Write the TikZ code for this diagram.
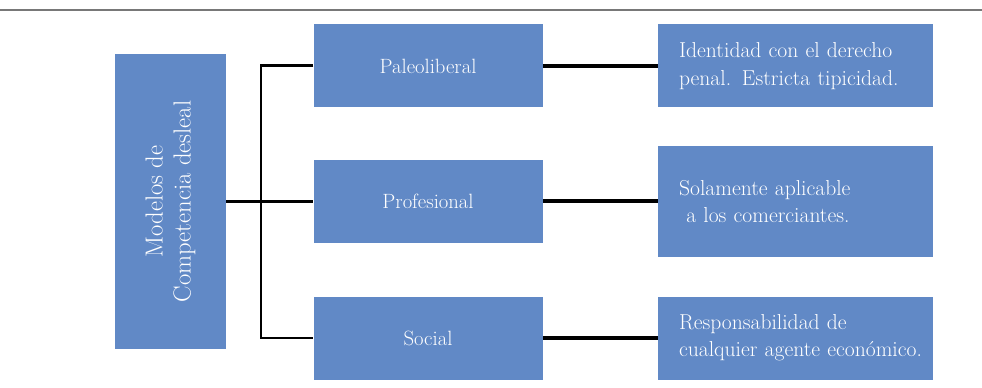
\documentclass[tikz,border=0pt]{standalone}
\usepackage{xcolor}
\usepackage{tikz}
\usetikzlibrary{positioning}
\definecolor{boxblue}{RGB}{97,137,198}
\definecolor{rulegray}{RGB}{120,120,120}

\begin{document}
\begin{tikzpicture}[x=0.75pt, y=-0.75pt]
  \tikzstyle{box} = [rectangle, fill=boxblue, text=white, inner sep=0pt, font=\fontsize{15.5}{20.5}\selectfont]
  \tikzstyle{model} = [box, rotate=90, align=center, minimum width=221.25pt, minimum height=83.25pt, font=\fontsize{18.5}{21}\selectfont]
  \tikzstyle{kind} = [box, align=center, minimum width=171.75pt, minimum height=62.25pt]
  \tikzstyle{desc} = [box, align=left, text width=174.75pt, inner xsep=15.75pt, minimum height=62.25pt, font=\fontsize{16.2}{20.5}\selectfont]
  \tikzstyle{link} = [line width=2.2pt, black]

  \useasboundingbox (0,0) rectangle (982,388);
  \draw[rulegray, line width=1pt] (0,10) -- (982,10);

  \node [model] (modelos) at (170.5,201.5) {Modelos de\\Competencia desleal};

  \node [kind, right=65.25pt of modelos.south] (prof) {Profesional};
  \node [kind, above=39pt of prof] (paleo) {Paleoliberal};
  \node [kind, below=39.75pt of prof] (social) {Social};

  \node [desc, right=86.25pt of paleo] (dpaleo) {Identidad con el derecho\\penal. Estricta tipicidad.};
  \node [desc, right=86.25pt of prof, minimum height=83.25pt] (dprof) {Solamente aplicable\\\ a los comerciantes.};
  \node [desc, right=86.25pt of social] (dsocial) {Responsabilidad de\\\mbox{cualquier agente económico.}};

  \coordinate (bus) at (261,201.5);

  \draw[link] (modelos.south) -- (prof.west);
  \draw[link] (paleo.west) -| (bus) |- (social.west);
  \draw[link, line width=3pt] (paleo.east) -- (dpaleo.west);
  \draw[link, line width=3pt] (prof.east) -- (dprof.west);
  \draw[link, line width=3pt] (social.east) -- (dsocial.west);
\end{tikzpicture}
\end{document}
